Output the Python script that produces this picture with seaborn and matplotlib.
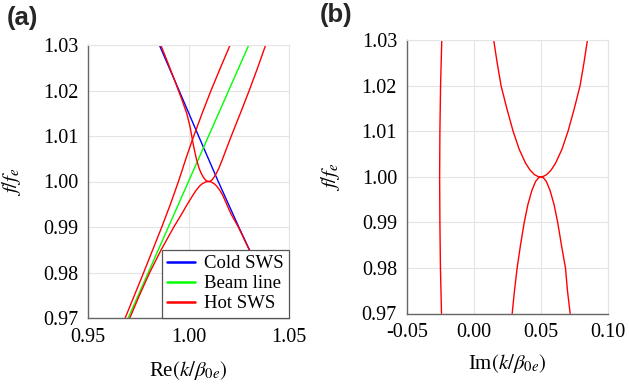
import numpy as np
import pandas as pd
import matplotlib.pyplot as plt
import seaborn as sns

# ---- panel (a): real part of k/beta_0e vs f/f_e ----
f_cold = [1.030, 1.020, 1.010, 1.000, 0.990, 0.980, 0.970]
re_cold = [0.9855, 0.9953, 1.0050, 1.0148, 1.0250, 1.0356, 1.0468]

f_beam = [0.970, 1.030]
re_beam = [0.970, 1.030]

# fast hot-SWS branch (left-most red line)
f_hot_fast = [0.970, 0.975, 0.980, 0.985, 0.990, 0.995, 1.000, 1.005, 1.009,
              1.012, 1.015, 1.020, 1.025, 1.030]
re_hot_fast = [0.9685, 0.9731, 0.9777, 0.9822, 0.9867, 0.9910, 0.9950, 0.9987,
               1.0018, 1.0043, 1.0068, 1.0112, 1.0159, 1.0207]

# upper hot-SWS curve (comes down along cold SWS, turns at f=1, goes up right)
f_hot_upper = [1.030, 1.026, 1.022, 1.018, 1.015, 1.012, 1.009, 1.007, 1.005,
               1.003, 1.002, 1.001, 1.0004, 1.0001, 1.000, 1.0001, 1.0004, 1.001,
               1.002, 1.003, 1.005, 1.007, 1.010, 1.013, 1.016, 1.020, 1.025,
               1.030]
re_hot_upper = [0.9862, 0.9898, 0.9933, 0.9967, 0.9991, 1.0008, 1.0020, 1.0029,
                1.0039, 1.0052, 1.0061, 1.0073, 1.0083, 1.0092, 1.0099, 1.0109,
                1.0118, 1.0128, 1.0141, 1.0152, 1.0170, 1.0187, 1.0213, 1.0240,
                1.0267, 1.0302, 1.0344, 1.0384]

# lower hot-SWS curve (hump below f=1)
f_hot_lower = [0.970, 0.975, 0.980, 0.985, 0.990, 0.993, 0.995, 0.996, 0.997,
               0.998, 0.999, 0.9995, 0.9999, 1.000, 0.9999, 0.9995, 0.999, 0.998,
               0.997, 0.995, 0.993, 0.990, 0.985, 0.980, 0.975, 0.970]
re_hot_lower = [0.9708, 0.9756, 0.9807, 0.9864, 0.9927, 0.9968, 0.9994, 1.0008,
                1.0022, 1.0037, 1.0055, 1.0068, 1.0085, 1.0099, 1.0113, 1.0128,
                1.0140, 1.0157, 1.0170, 1.0190, 1.0210, 1.0248, 1.0302, 1.0357,
                1.0412, 1.0469]

# ---- panel (b): imaginary part ----
f_im_left = [0.970, 0.980, 0.990, 1.000, 1.010, 1.020, 1.030]
im_left = [-0.0240, -0.0248, -0.0252, -0.0254, -0.0252, -0.0247, -0.0238]

f_im_upper = [1.030, 1.025, 1.020, 1.015, 1.010, 1.006, 1.003, 1.0015, 1.0005,
              1.0001, 1.000, 1.0001, 1.0005, 1.0015, 1.003, 1.006, 1.010, 1.015,
              1.020, 1.025, 1.030]
im_upper = [0.0150, 0.0176, 0.0205, 0.0248, 0.0295, 0.0341, 0.0388, 0.0421,
            0.0454, 0.0479, 0.0500, 0.0521, 0.0546, 0.0579, 0.0612, 0.0659,
            0.0705, 0.0752, 0.0795, 0.0824, 0.0850]

f_im_lower = [0.970, 0.975, 0.980, 0.985, 0.990, 0.994, 0.997, 0.999, 0.9998,
              1.000, 0.9998, 0.999, 0.997, 0.994, 0.990, 0.985, 0.980, 0.975,
              0.970]
im_lower = [0.0288, 0.0305, 0.0325, 0.0350, 0.0378, 0.0406, 0.0435, 0.0463,
            0.0485, 0.0502, 0.0521, 0.0543, 0.0571, 0.0600, 0.0628, 0.0656,
            0.0686, 0.0701, 0.0721]


def curve(name, kind, xs, fs):
    return pd.DataFrame({"x": xs, "f": fs, "curve": name, "kind": kind})


df_a = pd.concat([
    curve("cold", "Cold SWS", re_cold, f_cold),
    curve("beam", "Beam line", re_beam, f_beam),
    curve("fast", "Hot SWS", re_hot_fast, f_hot_fast),
    curve("upper", "Hot SWS", re_hot_upper, f_hot_upper),
    curve("lower", "Hot SWS", re_hot_lower, f_hot_lower),
], ignore_index=True)

df_b = pd.concat([
    curve("left", "Hot SWS", im_left, f_im_left),
    curve("upper", "Hot SWS", im_upper, f_im_upper),
    curve("lower", "Hot SWS", im_lower, f_im_lower),
], ignore_index=True)

sns.set_theme(style="whitegrid")
plt.rcParams["font.family"] = ["Liberation Serif", "DejaVu Serif"]
plt.rcParams["mathtext.fontset"] = "stix"

palette = {"Cold SWS": "#0000ff", "Beam line": "#00ff00", "Hot SWS": "#ff0000"}

fig = plt.figure(figsize=(6.29, 3.9), dpi=100)
ax_a = fig.add_axes([88 / 629, 72 / 390, 201 / 629, 273 / 390])
ax_b = fig.add_axes([406.7 / 629, 76.5 / 390, 200.8 / 629, 273.3 / 390])

sns.lineplot(data=df_a, x="x", y="f", hue="kind", units="curve",
             hue_order=["Cold SWS", "Beam line", "Hot SWS"], palette=palette,
             estimator=None, sort=False, lw=1.0, ax=ax_a)
sns.lineplot(data=df_b, x="x", y="f", units="curve", color="#ff0000",
             estimator=None, sort=False, lw=1.0, legend=False, ax=ax_b)

sns.move_legend(ax_a, "lower right", title=None, frameon=True, fancybox=False,
                framealpha=1, edgecolor="#555555", fontsize=13.5,
                borderaxespad=0, handlelength=1.5, handletextpad=0.45,
                labelspacing=0.15, borderpad=0.3)
leg = ax_a.get_legend()
leg.get_frame().set_linewidth(0.9)
for h in leg.legend_handles:
    h.set_linewidth(1.8)
for t in leg.get_texts():
    t.set_color("black")

for ax in (ax_a, ax_b):
    ax.set_ylim(0.97, 1.03)
    ax.set_yticks([0.97, 0.98, 0.99, 1.00, 1.01, 1.02, 1.03])
    ax.yaxis.set_major_formatter(plt.FormatStrFormatter("%.2f"))
    ax.xaxis.set_major_formatter(plt.FormatStrFormatter("%.2f"))
    ax.grid(True, color="#e4e4e4", lw=0.8)
    ax.tick_params(labelsize=14.5, colors="black", pad=7, length=0)
    for s in ("left", "bottom"):
        ax.spines[s].set_color("#666666")
        ax.spines[s].set_linewidth(1.0)
    for s in ("top", "right"):
        ax.spines[s].set_color("#e4e4e4")
        ax.spines[s].set_linewidth(0.8)
    ax.set_ylabel(r"$f/f_e$", fontsize=15, color="black", labelpad=14)

ax_a.set_xlim(0.95, 1.05)
ax_a.set_xticks([0.95, 1.00, 1.05])
ax_a.set_xlabel(r"Re$(k/\beta_{0e})$", fontsize=15, color="black", labelpad=9)

ax_b.set_xlim(-0.05, 0.10)
ax_b.set_xticks([-0.05, 0.00, 0.05, 0.10])
ax_b.set_xlabel(r"Im$(k/\beta_{0e})$", fontsize=15, color="black", labelpad=7)

fig.text(0.011, 0.955, "(a)", fontsize=18.5, fontweight="bold",
         family="Liberation Sans", va="center", ha="left")
fig.text(0.509, 0.962, "(b)", fontsize=18.5, fontweight="bold",
         family="Liberation Sans", va="center", ha="left")

fig.savefig("out.png", dpi=100)
